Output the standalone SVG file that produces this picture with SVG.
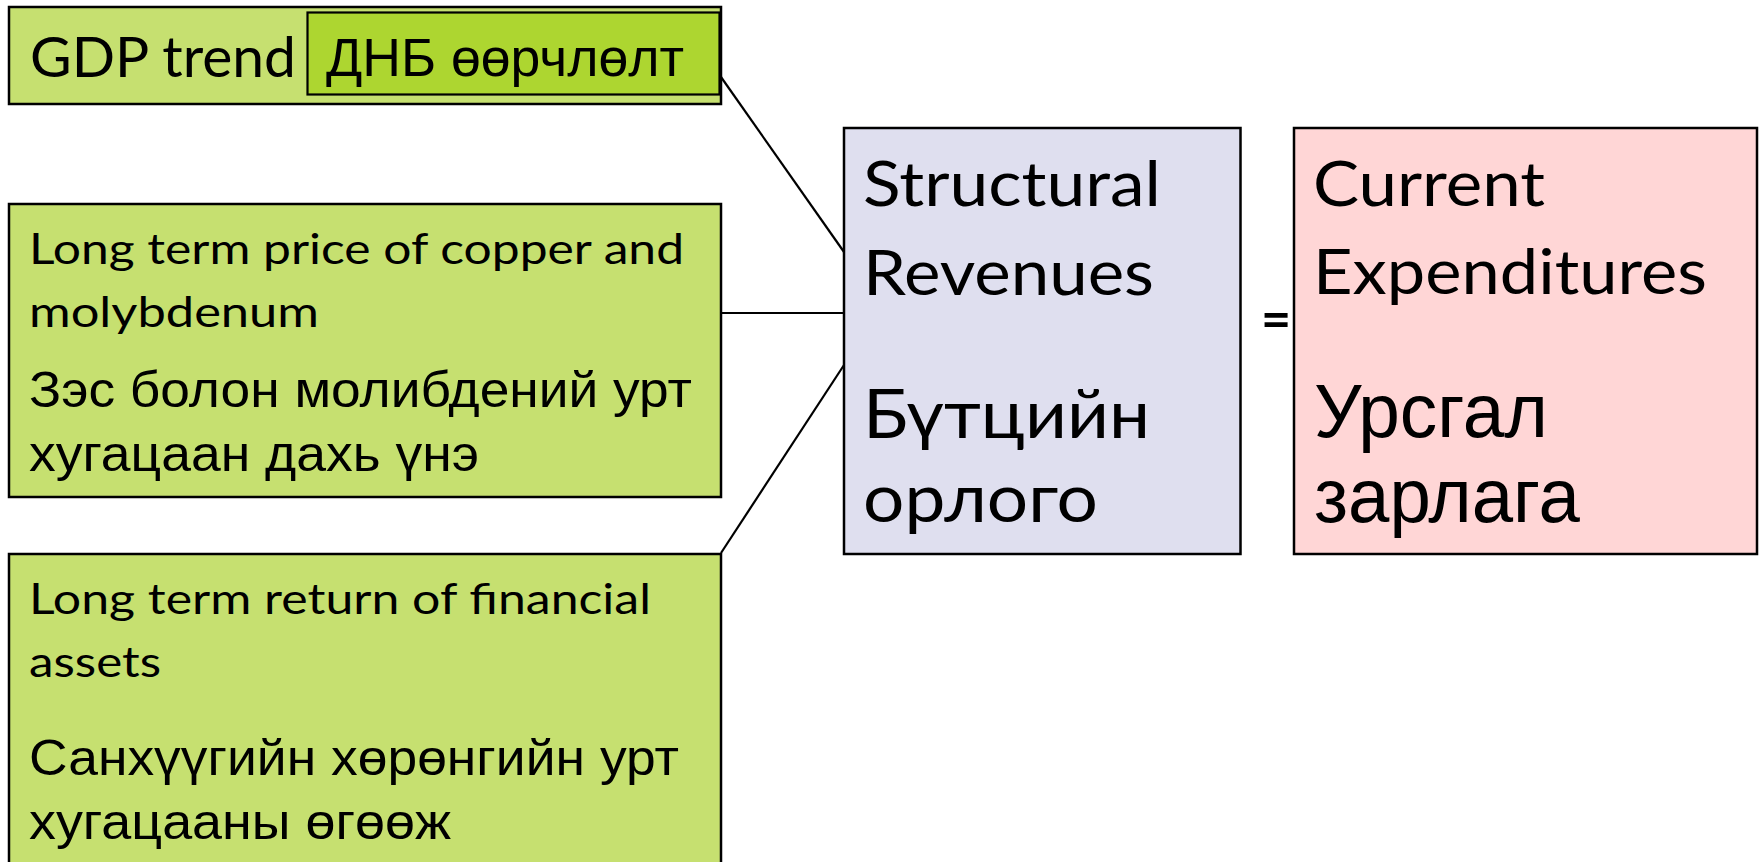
<svg xmlns="http://www.w3.org/2000/svg" width="1760" height="862" viewBox="0 0 1760 862">
<style>
.box{stroke:#000;stroke-width:2.5}
.g{fill:#C6E070}
.gi{fill:#ADD630;stroke:#000;stroke-width:2.2}
.lav{fill:#DFDFEF}
.pink{fill:#FFD6D6}
.en{font-family:Lato,"Open Sans","Liberation Sans",sans-serif;fill:#000}
.ru{font-family:"Liberation Sans",Arial,sans-serif;fill:#000}
.rc{font-family:Lato,"Liberation Sans",sans-serif;fill:#000}
.s{font-size:43px}
.rs{font-size:50px}
.big{font-size:62px}
.conn line{stroke:#000;stroke-width:2.2}
</style>
<rect width="1760" height="862" fill="#fff"/>
<g class="conn">
<line x1="721" y1="77" x2="844" y2="252"/>
<line x1="721" y1="313" x2="844" y2="313"/>
<line x1="721" y1="553" x2="844" y2="365"/>
</g>
<g id="gdp">
<rect class="box g" x="9" y="7" width="712" height="97"/>
<rect class="gi" x="307.5" y="12.5" width="412" height="82"/>
<text class="en" x="30" y="76.5" font-size="57" textLength="266" lengthAdjust="spacingAndGlyphs">GDP trend</text>
<text class="ru" x="326" y="76" font-size="54" textLength="358" lengthAdjust="spacingAndGlyphs">ДНБ өөрчлөлт</text>
</g>
<g id="copper">
<rect class="box g" x="9" y="204" width="712" height="293"/>
<text class="en s" x="29" y="263.5" textLength="655" lengthAdjust="spacingAndGlyphs">Long term price of copper and</text>
<text class="en s" x="29" y="327" textLength="290" lengthAdjust="spacingAndGlyphs">molybdenum</text>
<text class="ru rs" x="29" y="407" textLength="663" lengthAdjust="spacingAndGlyphs">Зэс болон молибдений урт</text>
<text class="ru rs" x="29" y="471" textLength="450" lengthAdjust="spacingAndGlyphs">хугацаан дахь үнэ</text>
</g>
<g id="financial">
<rect class="box g" x="9" y="554" width="712" height="320"/>
<text class="en s" x="29" y="614" textLength="622" lengthAdjust="spacingAndGlyphs">Long term return of financial</text>
<text class="en s" x="29" y="677" textLength="132" lengthAdjust="spacingAndGlyphs">assets</text>
<text class="ru rs" x="29" y="775" textLength="650" lengthAdjust="spacingAndGlyphs">Санхүүгийн хөрөнгийн урт</text>
<text class="ru rs" x="29" y="839" textLength="422" lengthAdjust="spacingAndGlyphs">хугацааны өгөөж</text>
</g>
<g id="structural">
<rect class="box lav" x="844" y="128" width="396.5" height="426"/>
<text class="en big" x="863" y="206" textLength="298" lengthAdjust="spacingAndGlyphs">Structural</text>
<text class="en big" x="863" y="295" textLength="291" lengthAdjust="spacingAndGlyphs">Revenues</text>
<text class="rc" x="863" y="438" font-size="68" textLength="287" lengthAdjust="spacingAndGlyphs">Бүтцийн</text>
<text class="rc" x="863" y="522" font-size="68" textLength="235" lengthAdjust="spacingAndGlyphs">орлого</text>
</g>
<g id="equals">
<text class="en" x="1261" y="337" font-size="52" font-weight="bold">=</text>
</g>
<g id="current">
<rect class="box pink" x="1294" y="128" width="463" height="426"/>
<text class="en big" x="1313" y="206" textLength="232" lengthAdjust="spacingAndGlyphs">Current</text>
<text class="en big" x="1313" y="294" textLength="394" lengthAdjust="spacingAndGlyphs">Expenditures</text>
<text class="ru" x="1314" y="437" font-size="76" textLength="234" lengthAdjust="spacingAndGlyphs">Урсгал</text>
<text class="ru" x="1314" y="522" font-size="76" textLength="266" lengthAdjust="spacingAndGlyphs">зарлага</text>
</g>
</svg>
